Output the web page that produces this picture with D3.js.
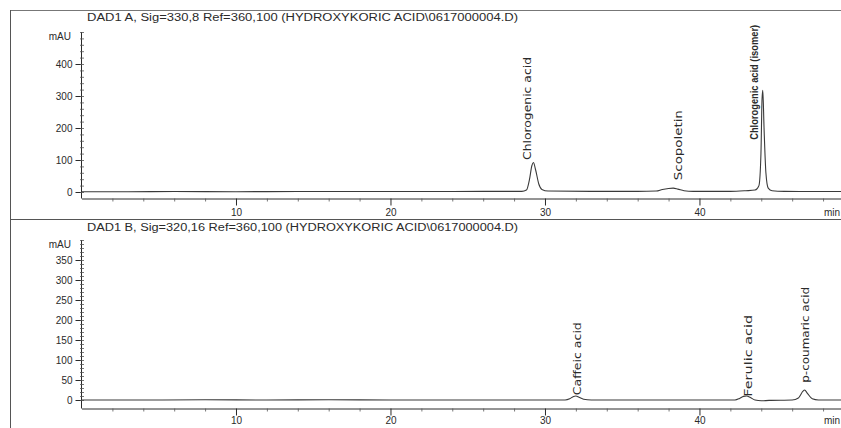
<!DOCTYPE html>
<html>
<head>
<meta charset="utf-8">
<script src="https://cdn.jsdelivr.net/npm/d3@7"></script>
<style>
  html, body { margin: 0; padding: 0; background: #ffffff; }
  svg { display: block; }
  text { font-family: "Liberation Sans", Arial, sans-serif; fill: #2a2a2a; }
</style>
</head>
<body>
<svg id="chart" width="841" height="428"></svg>
<script>
// ---------- data ----------
const titleA = "DAD1 A, Sig=330,8 Ref=360,100 (HYDROXYKORIC ACID\\0617000004.D)";
const titleB = "DAD1 B, Sig=320,16 Ref=360,100 (HYDROXYKORIC ACID\\0617000004.D)";

// time (min), absorbance (mAU) for signal A
const traceA = [
  [0, 1], [3, 1], [6, 1.5], [10, 1], [14, 1.5], [18, 1.5], [22, 1.5], [26, 2],
  [28.5, 2], [28.8, 6], [29.0, 40], [29.15, 82], [29.25, 92], [29.4, 68],
  [29.6, 25], [29.8, 8], [30.2, 3], [33, 2], [36, 2], [37.2, 3], [37.6, 8],
  [38.0, 11], [38.3, 12], [38.6, 9], [39.0, 4], [39.6, 2], [42, 2], [43, 4],
  [43.6, 6], [43.85, 20], [43.98, 120], [44.05, 290], [44.1, 318], [44.18, 200],
  [44.3, 60], [44.45, 12], [44.7, 4], [45.5, 2], [47, 1.5], [49.2, 1.5]
];
// time (min), absorbance (mAU) for signal B
const traceB = [
  [0, 0], [4, 0], [8, 0.5], [12, 0], [16, 0.5], [20, 0], [24, 0], [28, 0],
  [31.3, 0], [31.6, 3], [31.85, 9], [32.0, 10], [32.2, 7], [32.5, 2], [33, 0],
  [36, 0], [40, 0], [42.3, 0], [42.6, 4], [42.85, 9], [43.05, 10], [43.3, 6],
  [43.6, 0], [44, -2], [44.5, -1], [46.0, 0], [46.4, 5], [46.7, 22], [46.8, 25],
  [47.0, 16], [47.3, 3], [47.7, 0], [49.2, 0]
];

// peak labels: name, retention time, mAU level where the label starts
const labelsA = [
  { text: "Chlorogenic acid", t: 28.85, at: 100 },
  { text: "Scopoletin", t: 38.6, at: 37 },
  { text: "Chlorogenic acid (isomer)", t: 43.55, at: 163 }
];
const labelsB = [
  { text: "Caffeic acid", t: 32.1, at: 12 },
  { text: "Ferulic acid", t: 43.15, at: 8 },
  { text: "p-coumaric acid", t: 46.85, at: 43 }
];

const xTicks = [10, 20, 30, 40];
const yTicksA = [0, 100, 200, 300, 400];
const yTicksB = [0, 50, 100, 150, 200, 250, 300, 350];
const xDomain = [0, 49.2];
const yDomainA = [0, 500];
const yDomainB = [0, 400];

// ---------- drawing ----------
const svg = d3.select("#chart");
const W = 841, H = 428;
const ink = "#2a2a2a";

// frame
svg.append("line").attr("x1", 10).attr("x2", W).attr("y1", 10.5).attr("y2", 10.5)
  .attr("stroke", "#777").attr("stroke-width", 1);
svg.append("line").attr("x1", 10.5).attr("x2", 10.5).attr("y1", 10).attr("y2", H)
  .attr("stroke", "#555").attr("stroke-width", 1);
svg.append("line").attr("x1", 10).attr("x2", W).attr("y1", 219.5).attr("y2", 219.5)
  .attr("stroke", "#555").attr("stroke-width", 1);

const x = d3.scaleLinear().domain(xDomain).range([81.5, 841.6]);

function panel(cfg) {
  const y = d3.scaleLinear().domain(cfg.yDomain).range(cfg.yRange);
  const g = svg.append("g");
  const axisY = cfg.axisY;

  // title
  g.append("text").attr("x", 87).attr("y", cfg.titleY)
    .attr("font-size", 10).attr("textLength", 431).attr("lengthAdjust", "spacingAndGlyphs")
    .text(cfg.title);

  // y axis spine
  g.append("line").attr("x1", 81.5).attr("x2", 81.5)
    .attr("y1", y(cfg.yDomain[1])).attr("y2", axisY)
    .attr("stroke", ink).attr("stroke-width", 1);

  // y major ticks
  const yMajor = g.append("g").attr("transform", "translate(81.5,0)")
    .call(d3.axisLeft(y).tickValues(cfg.yTicks).tickSize(6).tickPadding(3));
  yMajor.select(".domain").remove();
  yMajor.selectAll("line").attr("stroke", ink);
  yMajor.selectAll("text").attr("font-size", 10).attr("fill", ink)
    .style("font-family", "'Liberation Sans', Arial, sans-serif");

  // y minor ticks
  const yMinor = g.append("g").attr("transform", "translate(84,0)")
    .call(d3.axisLeft(y).tickValues(d3.range(cfg.yDomain[0], cfg.yDomain[1] + 0.001, cfg.yMinorStep))
      .tickSize(4).tickFormat(""));
  yMinor.select(".domain").remove();
  yMinor.selectAll("line").attr("stroke", "#555").attr("stroke-width", 0.8);

  // mAU label
  g.append("text").attr("x", 71).attr("y", y(cfg.yDomain[1]) + 8)
    .attr("text-anchor", "end").attr("font-size", 10).text("mAU");

  // x axis
  const xMajor = g.append("g").attr("transform", `translate(0,${axisY})`)
    .call(d3.axisBottom(x).tickValues(xTicks).tickSize(7).tickPadding(cfg.xPad).tickSizeOuter(0));
  xMajor.select(".domain").attr("stroke", ink);
  xMajor.selectAll("line").attr("stroke", ink);
  xMajor.selectAll("text").attr("font-size", 10).attr("fill", ink)
    .style("font-family", "'Liberation Sans', Arial, sans-serif");

  const xMinor = g.append("g").attr("transform", `translate(0,${axisY})`)
    .call(d3.axisBottom(x).tickValues(d3.range(2, 49, 2).filter(v => v % 10 !== 0))
      .tickSize(3).tickFormat("").tickSizeOuter(0));
  xMinor.select(".domain").remove();
  xMinor.selectAll("line").attr("stroke", "#555").attr("stroke-width", 0.8);

  g.append("text").attr("x", 824).attr("y", axisY + cfg.minDy).attr("font-size", 10).text("min");

  // trace
  const line = d3.line().x(d => x(d[0])).y(d => y(d[1])).curve(d3.curveMonotoneX);
  g.append("path").datum(cfg.trace).attr("d", line)
    .attr("fill", "none").attr("stroke", "#3a3a3a").attr("stroke-width", 1.1);

  // peak labels
  cfg.labels.forEach((lb, i) => {
    const px = x(lb.t), py = y(lb.at);
    const st = cfg.labelStyle[i];
    const tx = g.append("text")
      .attr("transform", `translate(${px + st.dx},${py}) rotate(-90)`)
      .attr("font-size", st.size)
      .attr("fill", "#111")
      .style("font-family", st.family)
      .style("font-weight", st.weight)
      .text(lb.text);
    if (st.len) tx.attr("textLength", st.len).attr("lengthAdjust", "spacingAndGlyphs");
  });
}

const sans = "'DejaVu Sans', Verdana, sans-serif";
const narrow = "'Liberation Sans Narrow', 'Liberation Sans', Arial, sans-serif";

panel({
  title: titleA, titleY: 21, yDomain: yDomainA, yRange: [192, 32], axisY: 198.5,
  xPad: 3, minDy: 17,
  yTicks: yTicksA, yMinorStep: 20, trace: traceA, labels: labelsA,
  labelStyle: [
    { dx: 4, size: 11, family: sans, weight: "normal", len: 103 },
    { dx: 4, size: 11, family: sans, weight: "normal", len: 70 },
    { dx: 4, size: 10.5, family: narrow, weight: "bold", len: 115 }
  ]
});

panel({
  title: titleB, titleY: 231, yDomain: yDomainB, yRange: [400, 240], axisY: 408.5,
  xPad: 1, minDy: 15,
  yTicks: yTicksB, yMinorStep: 10, trace: traceB, labels: labelsB,
  labelStyle: [
    { dx: 4, size: 11, family: sans, weight: "normal", len: 73 },
    { dx: 4, size: 11, family: sans, weight: "normal", len: 82 },
    { dx: 4, size: 11, family: sans, weight: "normal", len: 96 }
  ]
});
</script>
</body>
</html>
